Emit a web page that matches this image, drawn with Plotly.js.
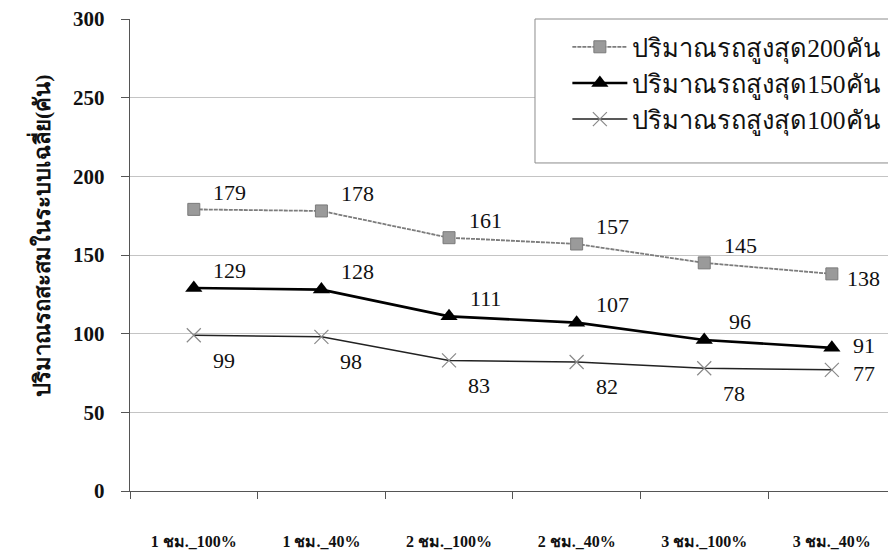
<!DOCTYPE html>
<html>
<head>
<meta charset="utf-8">
<script src="https://cdn.plot.ly/plotly-3.0.1.min.js"></script>
<style>
  html, body { margin: 0; padding: 0; background: #ffffff; overflow: hidden; }
  #chart { width: 888px; height: 554px; }
</style>
</head>
<body>
<div id="chart"></div>
<script>
// Scenario categories (hours of operation _ share)
const categories = ["1 ชม._100%", "1 ชม._40%", "2 ชม._100%", "2 ชม._40%", "3 ชม._100%", "3 ชม._40%"];

// Average accumulated vehicles in the system, per maximum-vehicle setting
const seriesNames = ["ปริมาณรถสูงสุด200คัน", "ปริมาณรถสูงสุด150คัน", "ปริมาณรถสูงสุด100คัน"];
const max200 = [179, 178, 161, 157, 145, 138];
const max150 = [129, 128, 111, 107, 96, 91];
const max100 = [99, 98, 83, 82, 78, 77];

const yTicks = [0, 50, 100, 150, 200, 250, 300];
const yTitle = "ปริมาณรถสะสมในระบบเฉลี่ย(คัน)";

const FONT = "Liberation Serif, Times New Roman, serif";

const traces = [
  {
    x: categories, y: max200, name: seriesNames[0], type: "scatter", mode: "lines+markers",
    line: { color: "#7c7c7c", width: 1.8, dash: "4px,1px" },
    marker: { symbol: "square", size: 12, color: "#9a9a9a", line: { color: "#7a7a7a", width: 1 } }
  },
  {
    x: categories, y: max150, name: seriesNames[1], type: "scatter", mode: "lines+markers",
    line: { color: "#000000", width: 2.6 },
    marker: { symbol: "triangle-up", size: 15, color: "#000000" }
  },
  {
    x: categories, y: max100, name: seriesNames[2], type: "scatter", mode: "lines+markers",
    line: { color: "#222222", width: 1.5 },
    marker: { symbol: "x-thin-open", size: 14, color: "#8a8a8a", line: { color: "#8a8a8a", width: 1.2 } }
  }
];

// Value labels: upper series sit above-right of each point, the lowest series below-right,
// and the final column is labelled directly to the right of the marker.
const lastLift = [-5, 2, -4];
const annotations = [];
[[max200, 17], [max150, 18], [max100, -25]].forEach(([vals, lift], s) => {
  vals.forEach((v, i) => {
    const last = i === vals.length - 1;
    annotations.push({
      x: categories[i], y: v, text: String(v), showarrow: false,
      xshift: last ? 32 : (s === 2 ? 30 : 36),
      yshift: last ? lastLift[s] : lift,
      font: { family: FONT, size: 22, color: "#111111" }
    });
  });
});

// Rotated value-axis title, set left of the tick labels
annotations.push({
  xref: "paper", yref: "paper", x: -0.119, y: 0.542,
  text: yTitle, textangle: -90, showarrow: false,
  xanchor: "center", yanchor: "middle",
  font: { family: FONT, size: 22, color: "#111111", weight: "bold" }
});

const layout = {
  width: 888, height: 554,
  margin: { l: 130, r: 0, t: 19, b: 63 },
  paper_bgcolor: "#ffffff", plot_bgcolor: "#ffffff",
  showlegend: true,
  legend: {
    x: 0.577, y: 0.99, xanchor: "left", yanchor: "top",
    bgcolor: "rgba(0,0,0,0)", borderwidth: 0,
    font: { family: FONT, size: 25.5, color: "#111111" },
    itemwidth: 55
  },
  // Framed panel behind the legend entries
  shapes: [{
    type: "rect", xref: "paper", yref: "paper",
    x0: 0.5343, x1: 1.05, y0: 0.695, y1: 1.0,
    fillcolor: "#ffffff", line: { color: "#8c8c8c", width: 1 }, layer: "above"
  }],
  xaxis: {
    type: "category",
    range: [-0.5, 5.44],
    tickson: "boundaries",
    ticks: "outside", ticklen: 7, tickcolor: "#555555",
    showline: true, linecolor: "#555555", linewidth: 1.2,
    showgrid: false, zeroline: false,
    ticklabelstandoff: 36,
    tickfont: { family: FONT, size: 16, color: "#111111", weight: "bold" }
  },
  yaxis: {
    range: [0, 300],
    tickvals: yTicks,
    ticks: "outside", ticklen: 8, tickcolor: "#555555",
    showline: true, linecolor: "#555555", linewidth: 1.2,
    showgrid: true, gridcolor: "#c4c4c4", gridwidth: 1,
    zeroline: false,
    ticklabelstandoff: 12,
    tickfont: { family: FONT, size: 21, color: "#111111", weight: "bold" }
  },
  annotations: annotations
};

Plotly.newPlot("chart", traces, layout, { displayModeBar: false, staticPlot: true });
</script>
</body>
</html>
